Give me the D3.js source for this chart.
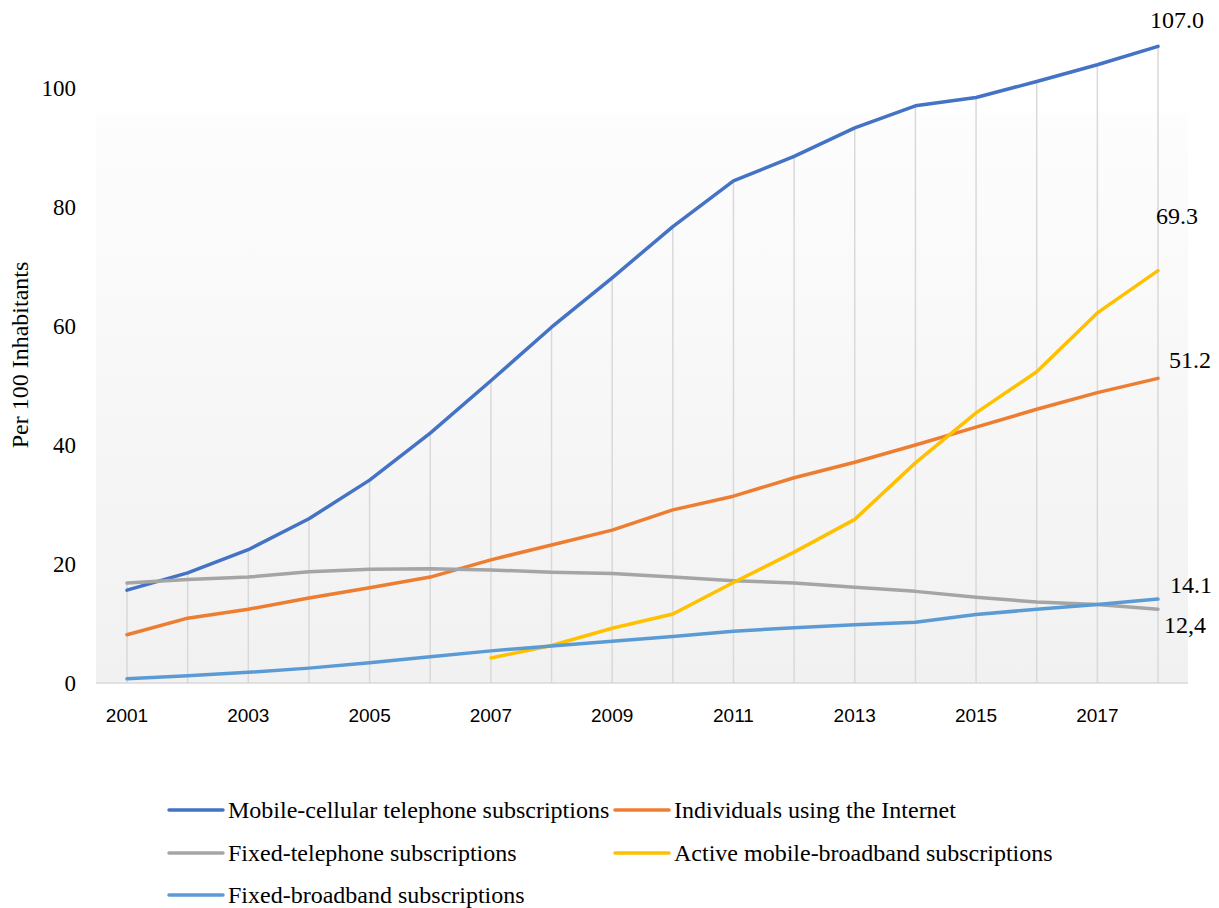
<!DOCTYPE html>
<html>
<head>
<meta charset="utf-8">
<script src="https://cdn.jsdelivr.net/npm/d3@7"></script>
<style>
  html, body { margin: 0; padding: 0; background: #fff; }
  svg { display: block; }
</style>
</head>
<body>
<svg id="chart" width="1219" height="908"></svg>
<script>
// ---- data ----
const years = [2001,2002,2003,2004,2005,2006,2007,2008,2009,2010,2011,2012,2013,2014,2015,2016,2017,2018];
const mobileCellular = [15.6,18.5,22.4,27.6,34.1,42.0,50.8,59.8,68.1,76.7,84.4,88.5,93.3,97.0,98.4,101.1,103.9,107.0];
const internetUsers  = [8.1,10.9,12.4,14.3,16.0,17.8,20.7,23.2,25.7,29.1,31.4,34.5,37.1,40.0,43.0,46.0,48.8,51.2];
const fixedTelephone = [16.8,17.4,17.8,18.7,19.1,19.2,19.0,18.6,18.4,17.8,17.2,16.8,16.1,15.4,14.4,13.6,13.2,12.4];
const mobileBroadband = [null,null,null,null,null,null,4.2,6.3,9.2,11.6,16.9,22.0,27.5,37.0,45.4,52.3,62.2,69.3];
const fixedBroadband = [0.7,1.2,1.8,2.5,3.4,4.4,5.4,6.2,7.0,7.8,8.7,9.3,9.8,10.2,11.5,12.4,13.2,14.1];
const yTicks = [0,20,40,60,80,100];
const xTickYears = [2001,2003,2005,2007,2009,2011,2013,2015,2017];
const seriesNames = ["Mobile-cellular telephone subscriptions","Individuals using the Internet","Fixed-telephone subscriptions","Active mobile-broadband subscriptions","Fixed-broadband subscriptions"];
const seriesColors = ["#4472c4","#ed7d31","#a5a5a5","#ffc000","#5b9bd5"];
const endLabels = ["107.0","51.2","12,4","69.3","14.1"];
const yTitle = "Per 100 Inhabitants";

const series = [mobileCellular, internetUsers, fixedTelephone, mobileBroadband, fixedBroadband];

// ---- layout ----
const svg = d3.select("#chart");
const plotLeft = 96, plotRight = 1188, plotBottom = 683;
const x = d3.scaleLinear().domain([2001, 2018]).range([127, 1158]);
const y = d3.scaleLinear().domain([0, 100]).range([683, 88]);
const serif = "'Liberation Serif', 'Times New Roman', serif";

// gradient background
const defs = svg.append("defs");
const grad = defs.append("linearGradient").attr("id","bg").attr("x1",0).attr("y1",0).attr("x2",0).attr("y2",1);
grad.append("stop").attr("offset","0%").attr("stop-color","#fdfdfd");
grad.append("stop").attr("offset","100%").attr("stop-color","#f1f1f1");
svg.append("rect").attr("x",plotLeft).attr("y",113).attr("width",plotRight-plotLeft).attr("height",plotBottom-113).attr("fill","url(#bg)");

// drop lines
const maxPerYear = years.map((yr,i) => d3.max(series, s => s[i] == null ? 0 : s[i]));
svg.append("g").selectAll("line").data(years).join("line")
  .attr("x1", d => x(d)).attr("x2", d => x(d))
  .attr("y1", (d,i) => y(maxPerYear[i])).attr("y2", y(0))
  .attr("stroke","#d9d9d9").attr("stroke-width",1.5);

// x axis line
svg.append("line").attr("x1",plotLeft).attr("x2",plotRight).attr("y1",y(0)).attr("y2",y(0))
  .attr("stroke","#d9d9d9").attr("stroke-width",1.5);

// y tick labels
svg.append("g").selectAll("text").data(yTicks).join("text")
  .attr("x",76).attr("y", d => y(d)).attr("dy","0.35em")
  .attr("text-anchor","end")
  .attr("font-family",serif)
  .attr("font-size",23).attr("fill","#000")
  .text(d => d);

// x tick labels
svg.append("g").selectAll("text").data(xTickYears).join("text")
  .attr("x", d => x(d)).attr("y", 722)
  .attr("text-anchor","middle")
  .attr("font-family","'Liberation Sans', Arial, sans-serif")
  .attr("font-size",19).attr("fill","#000")
  .text(d => d);

// y axis title
svg.append("text")
  .attr("transform","translate(28,355) rotate(-90)")
  .attr("text-anchor","middle")
  .attr("font-family",serif)
  .attr("font-size",24).attr("fill","#000")
  .text(yTitle);

// lines
const line = d3.line().defined(d => d.v != null).x(d => x(d.yr)).y(d => y(d.v));
series.forEach((s, k) => {
  svg.append("path")
    .datum(years.map((yr,i) => ({yr, v: s[i]})))
    .attr("d", line)
    .attr("fill","none")
    .attr("stroke", seriesColors[k])
    .attr("stroke-width",3.5)
    .attr("stroke-linejoin","round")
    .attr("stroke-linecap","round");
});

// end labels
const labelOffsets = [[19,-18],[32,-10],[27,24],[19,-47],[33,-6]];
series.forEach((s,k) => {
  const v = s[s.length-1];
  svg.append("text")
    .attr("x", x(2018) + labelOffsets[k][0])
    .attr("y", y(v) + labelOffsets[k][1])
    .attr("text-anchor","middle")
    .attr("font-family",serif)
    .attr("font-size",24).attr("fill","#000")
    .text(endLabels[k]);
});

// legend
const legendPos = [[169,810],[615,810],[169,853],[615,853],[169,895]];
const lg = svg.append("g");
seriesNames.forEach((name,k) => {
  const [lx,ly] = legendPos[k];
  lg.append("line").attr("x1",lx).attr("x2",lx+54).attr("y1",ly).attr("y2",ly)
    .attr("stroke",seriesColors[k]).attr("stroke-width",3.5).attr("stroke-linecap","round");
  lg.append("text").attr("x",lx+59).attr("y",ly).attr("dy","0.33em")
    .attr("font-family",serif)
    .attr("font-size",24).attr("fill","#000")
    .text(name);
});
</script>
</body>
</html>
